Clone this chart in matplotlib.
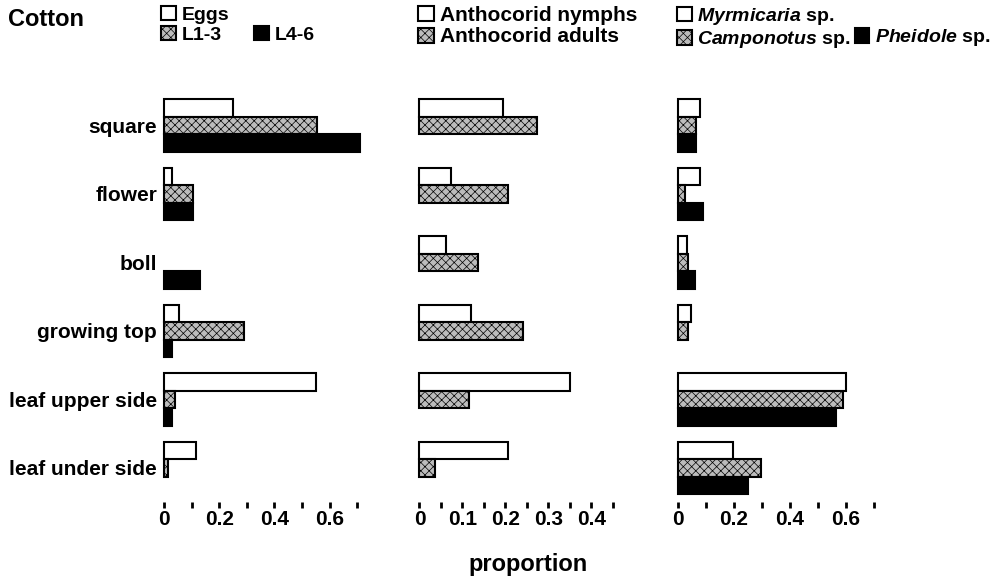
import numpy as np
import matplotlib
matplotlib.use('Agg')
import matplotlib.pyplot as plt
from matplotlib.patches import Patch
from matplotlib.ticker import MultipleLocator, FuncFormatter

plt.rcParams['font.family'] = 'Liberation Sans'
plt.rcParams['hatch.linewidth'] = 0.5
plt.rcParams['mathtext.fontset'] = 'custom'
plt.rcParams['mathtext.it'] = 'Liberation Sans:italic:bold'
plt.rcParams['mathtext.rm'] = 'Liberation Sans:bold'

# plant parts, top to bottom
sites = ['square', 'flower', 'boll', 'growing top', 'leaf upper side', 'leaf under side']

# Helicoverpa stages
eggs = [0.25, 0.03, 0.0, 0.055, 0.55, 0.115]
l1_3 = [0.555, 0.105, 0.0, 0.29, 0.04, 0.015]
l4_6 = [0.71, 0.105, 0.13, 0.03, 0.03, 0.0]

# anthocorids
nymphs = [0.195, 0.073, 0.062, 0.12, 0.35, 0.207]
adults = [0.273, 0.205, 0.136, 0.24, 0.115, 0.037]

# ants
myrmicaria = [0.078, 0.078, 0.032, 0.048, 0.60, 0.198]
camponotus = [0.064, 0.024, 0.036, 0.036, 0.588, 0.295]
pheidole = [0.064, 0.09, 0.062, 0.0, 0.565, 0.25]

W, H = 1003, 582
fig = plt.figure(figsize=(W / 100, H / 100), dpi=100)

open_bar = dict(facecolor='white', edgecolor='black')
dotted_bar = dict(facecolor='#bcbcbc', edgecolor='black', hatch='xxxx')
solid_bar = dict(facecolor='black', edgecolor='black')


def px_axes(x0, x1, y0=84.4, y1=507.7):
    return fig.add_axes([x0 / W, (H - y1) / H, (x1 - x0) / W, (y1 - y0) / H])


def tick_fmt(v, _):
    return '0' if abs(v) < 1e-9 else f'{v:.1f}'


def panel(ax, series, styles, xlim, major):
    y = np.arange(len(sites))
    h = 0.255
    for k, (vals, st) in enumerate(zip(series, styles)):
        lw = [1.5 if v > 0 else 0 for v in vals]
        ax.barh(y + (k - 1) * h, vals, height=h, linewidth=lw, **st)
    ax.set_ylim(5.58, -0.6)
    ax.set_xlim(*xlim)
    ax.xaxis.set_major_locator(MultipleLocator(major))
    ax.xaxis.set_minor_locator(MultipleLocator(major / 2))
    ax.xaxis.set_major_formatter(FuncFormatter(tick_fmt))
    ax.tick_params(axis='x', which='both', direction='in', length=4, width=2, pad=2)
    ax.tick_params(axis='x', labelsize=15)
    for lab in ax.get_xticklabels():
        lab.set_fontweight('bold')
    for s in ax.spines.values():
        s.set_visible(False)
    ax.set_yticks([])
    return y


ax1 = px_axes(161.2, 371)
y = panel(ax1, [eggs, l1_3, l4_6], [open_bar, dotted_bar, solid_bar], (-0.01, 0.75), 0.2)
ax1.set_yticks(y)
ax1.set_yticklabels(sites, fontsize=15, fontweight='bold')
ax1.tick_params(axis='y', length=0, pad=3)

ax2 = px_axes(416.9, 617.3)
panel(ax2, [nymphs, adults], [open_bar, dotted_bar], (-0.006, 0.46), 0.1)

ax3 = px_axes(675.2, 879.6)
panel(ax3, [myrmicaria, camponotus, pheidole], [open_bar, dotted_bar, solid_bar], (-0.01, 0.72), 0.2)


def legend(handles, labels, x, colsp, size, ncol=2):
    fig.legend(handles, labels, loc='upper left', bbox_to_anchor=(x / W, 1 - 6 / H),
               ncol=ncol, frameon=False, borderaxespad=0, borderpad=0,
               handlelength=0.75, handleheight=0.75, handletextpad=0.3,
               columnspacing=colsp, labelspacing=0.12,
               prop=dict(weight='bold', size=size))


blank = Patch(visible=False)
p_open = Patch(linewidth=1.5, **open_bar)
p_dot = Patch(linewidth=1.5, **dotted_bar)
p_solid = Patch(linewidth=1.5, **solid_bar)

legend([p_open, p_dot, blank, p_solid], ['Eggs', 'L1-3', '', 'L4-6'], 161, 1.3, 14)
legend([p_open, p_dot], ['Anthocorid nymphs', 'Anthocorid adults'], 418, 1.0, 15, ncol=1)
legend([p_open, p_dot, blank, p_solid],
       [r'$\it{Myrmicaria}$ sp.', r'$\it{Camponotus}$ sp.', '', r'$\it{Pheidole}$ sp.'],
       677, 0.2, 14)

fig.text(8 / W, 1 - 20 / H, 'Cotton', fontsize=17, fontweight='bold', va='center')
fig.text(528 / W, 1 - 565 / H, 'proportion', fontsize=17, fontweight='bold',
         ha='center', va='center')

fig.savefig('out.png', dpi=100)
